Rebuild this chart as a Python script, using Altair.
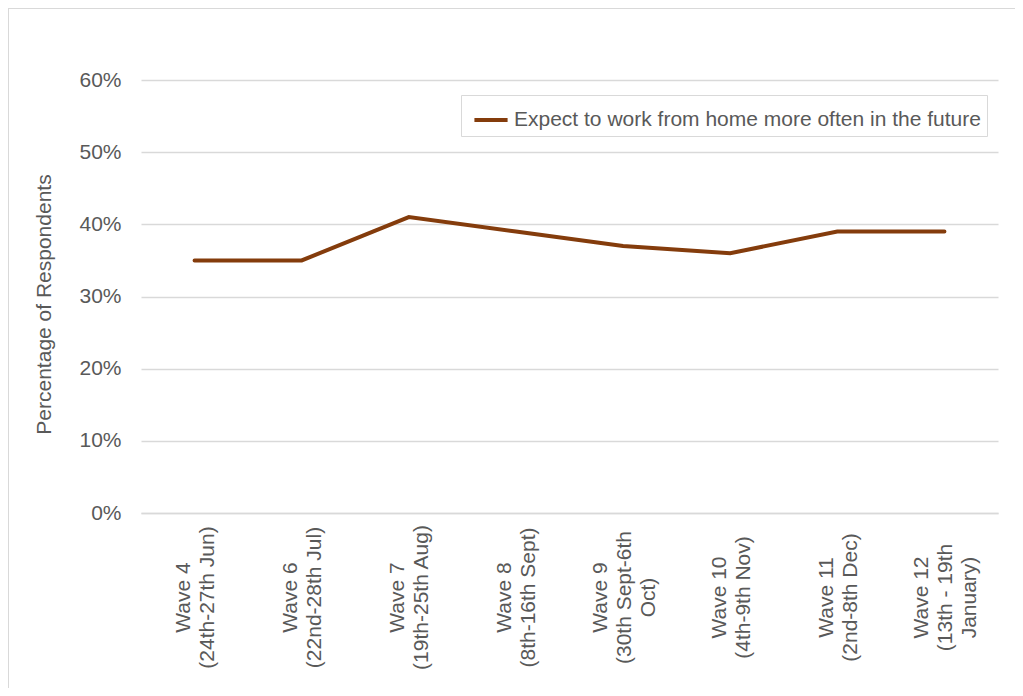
import altair as alt
import pandas as pd

waves = [
    "Wave 4|(24th-27th Jun)",
    "Wave 6|(22nd-28th Jul)",
    "Wave 7|(19th-25th Aug)",
    "Wave 8|(8th-16th Sept)",
    "Wave 9|(30th Sept-6th|Oct)",
    "Wave 10|(4th-9th Nov)",
    "Wave 11|(2nd-8th Dec)",
    "Wave 12|(13th - 19th|January)",
]
values = [0.35, 0.35, 0.41, 0.39, 0.37, 0.36, 0.39, 0.39]
series_name = "Expect to work from home more often in the future"
y_ticks = [0, 0.1, 0.2, 0.3, 0.4, 0.5, 0.6]

df = pd.DataFrame({"wave": waves, "value": values, "series": [series_name] * len(waves)})

FONT = "Liberation Sans"
GREY = "#595959"
LINE = "#843C0C"

line = alt.Chart(df).mark_line(strokeWidth=4, strokeCap="round").encode(
    x=alt.X(
        "wave:N",
        sort=waves,
        title=None,
        axis=alt.Axis(
            labelAngle=270,
            labelAlign="center",
            labelBaseline="middle",
            labelExpr="split(datum.value, '|')",
            labelPadding=84,
            labelLineHeight=24,
            labelFontSize=21,
            labelOffset={
                "condition": {"test": "length(split(datum.value, '|')) > 2", "value": -23},
                "value": -11,
            },
            ticks=False,
            tickSize=0,
            domainColor="#d9d9d9",
            domainWidth=1.5,
            grid=False,
        ),
    ),
    y=alt.Y(
        "value:Q",
        scale=alt.Scale(domain=[0, 0.6], nice=False),
        axis=alt.Axis(
            values=y_ticks,
            format=".0%",
            title="Percentage of Respondents",
            titlePadding=24,
            titleY=224,
            titleFontWeight="normal",
            labelPadding=20,
            labelFontSize=21,
            ticks=False,
            domain=False,
            gridColor="#d9d9d9",
            gridWidth=1.5,
        ),
    ),
    color=alt.Color(
        "series:N",
        scale=alt.Scale(range=[LINE]),
        legend=alt.Legend(
            title=None,
            orient="none",
            legendX=320,
            legendY=15,
            symbolType="stroke",
            symbolStrokeWidth=4,
            symbolSize=1100,
            symbolOffset=5,
            strokeColor="#d9d9d9",
            padding=6,
            labelOffset=4,
        ),
    ),
)

frame = alt.Chart(alt.Data(values=[{"a": 1}])).mark_rect(
    filled=False, stroke="#d9d9d9", strokeWidth=2
).encode(
    x=alt.value(-133), x2=alt.value(1100), y=alt.value(-72), y2=alt.value(800)
)

chart = alt.layer(frame, line).properties(
    width=857,
    height=433,
    autosize=alt.AutoSizeParams(type="none"),
    padding={"left": 133, "top": 72, "right": 17, "bottom": 175},
).configure_view(stroke=None).configure_axis(
    labelFont=FONT, titleFont=FONT, labelColor=GREY, titleColor=GREY,
    titleFontSize=21,
).configure_legend(
    labelFont=FONT, labelColor=GREY, labelFontSize=21, labelLimit=600,
)

chart.save("out.html", embed_options={"renderer": "svg", "actions": False})
